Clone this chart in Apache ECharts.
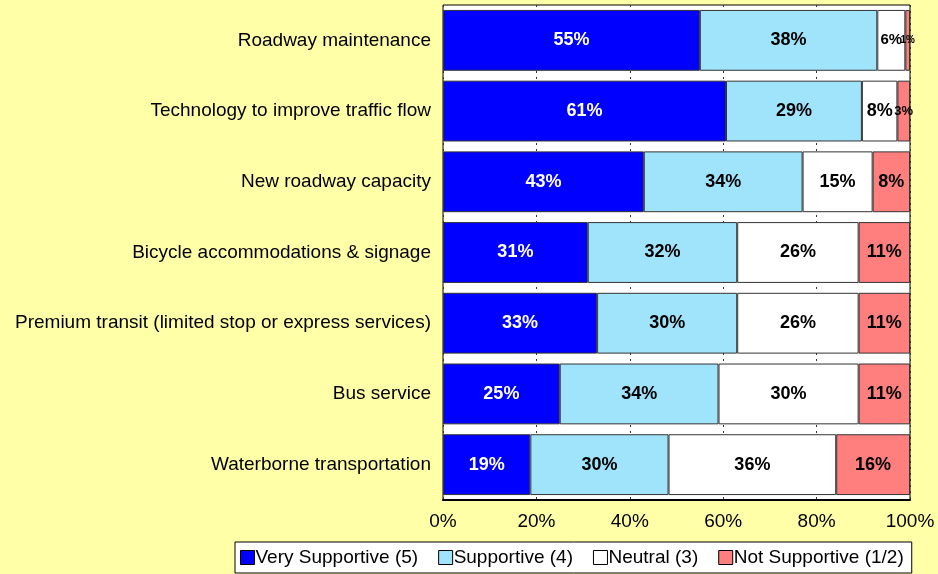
<!DOCTYPE html>
<html>
<head>
<meta charset="utf-8">
<script src="https://cdn.jsdelivr.net/npm/echarts@6/dist/echarts.min.js"></script>
<style>
  html, body { margin: 0; padding: 0; background: #FFFFA8; }
  #chart { width: 938px; height: 574px; }
</style>
</head>
<body>
<div id="chart"></div>
<script>
// survey categories, top to bottom
const categories = [
  'Roadway maintenance',
  'Technology to improve traffic flow',
  'New roadway capacity',
  'Bicycle accommodations & signage',
  'Premium transit (limited stop or express services)',
  'Bus service',
  'Waterborne transportation'
]
const seriesNames = ['Very Supportive (5)', 'Supportive (4)', 'Neutral (3)', 'Not Supportive (1/2)']
const verySupportive = [55, 60.6, 43, 31, 33, 25, 18.7]
const supportive = [38, 29.1, 34, 32, 30, 34, 29.6]
const neutral = [6, 7.6, 15, 26, 26, 30, 35.9]
const notSupportive = [1, 2.7, 8, 11, 11, 11, 15.8]
const xTicks = ['0%', '20%', '40%', '60%', '80%', '100%']

const colors = ['#0000FF', '#A0E4FC', '#FFFFFF', '#FF7F7F']
const font = '"Liberation Sans", Arial, sans-serif'

function items(values) {
  // small segments get smaller labels, like in the original
  return values.map(v => {
    let size = 18
    if (v < 2) size = 10
    else if (v < 4) size = 13
    else if (v < 7) size = 15
    return { value: v, label: { fontSize: size } }
  })
}

const allValues = [verySupportive, supportive, neutral, notSupportive]

const chart = echarts.init(document.getElementById('chart'))
chart.setOption({
  backgroundColor: '#FFFFA8',
  animation: false,
  grid: {
    left: 443,
    right: 28,
    top: 5,
    bottom: 74,
    show: true,
    backgroundColor: '#FFFFFF',
    borderColor: '#000000',
    borderWidth: 1
  },
  legend: {
    bottom: 1,
    left: 235,
    padding: [6, 8, 6, 5],
    backgroundColor: '#FFFFFF',
    borderColor: '#000000',
    borderWidth: 1,
    borderRadius: 0,
    itemWidth: 14,
    itemHeight: 14,
    itemGap: 20,
    icon: 'rect',
    textStyle: { fontFamily: font, fontSize: 19, color: '#000', padding: [0, 0, 0, -4] },
    data: seriesNames.map((n, i) => ({
      name: n,
      itemStyle: { color: colors[i], borderColor: '#000', borderWidth: 1 }
    }))
  },
  xAxis: {
    type: 'value',
    min: 0,
    max: 100,
    interval: 20,
    axisLine: { show: true, lineStyle: { color: '#000', width: 2 } },
    axisTick: { show: false },
    axisLabel: {
      fontFamily: font,
      fontSize: 19,
      color: '#000',
      margin: 12,
      formatter: v => xTicks[v / 20]
    },
    splitLine: { show: true, lineStyle: { color: '#333', type: [2, 4], width: 1 } }
  },
  yAxis: {
    type: 'category',
    inverse: true,
    data: categories,
    axisLine: { show: false },
    axisTick: { show: false },
    axisLabel: { fontFamily: font, fontSize: 19, color: '#000', margin: 12 }
  },
  series: seriesNames.map((name, i) => ({
    name: name,
    type: 'bar',
    stack: 'total',
    barCategoryGap: '14%',
    data: items(allValues[i]),
    itemStyle: { color: colors[i], borderColor: '#333', borderWidth: 1 },
    label: {
      show: true,
      position: 'inside',
      fontFamily: font,
      fontWeight: 'bold',
      fontSize: 18,
      color: i === 0 ? '#FFFFFF' : '#000000',
      formatter: p => Math.round(p.value) + '%'
    },
    labelLayout: { hideOverlap: false }
  }))
})
</script>
</body>
</html>
